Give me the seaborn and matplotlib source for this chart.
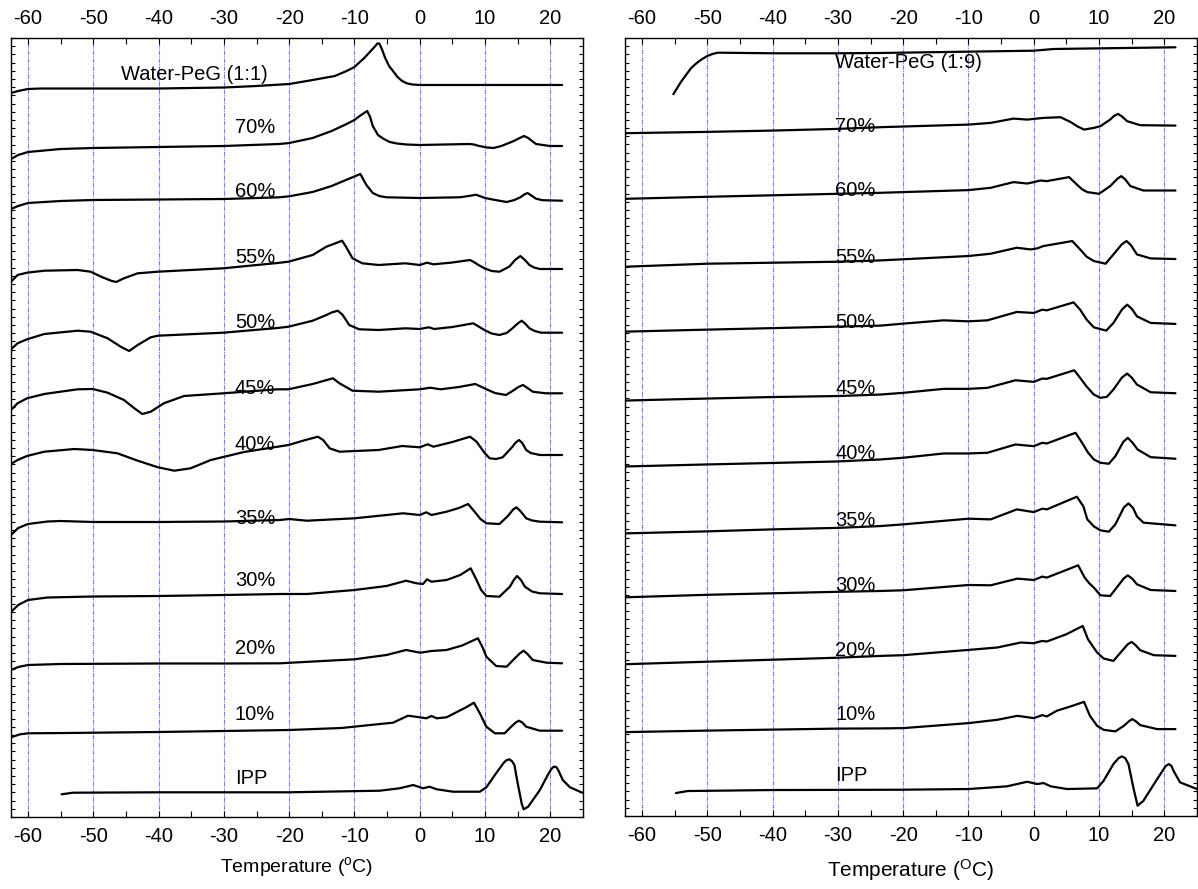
import matplotlib
matplotlib.use("Agg")
import matplotlib.pyplot as plt
from matplotlib.ticker import MultipleLocator
import pandas as pd
import seaborn as sns

# ---------------- data (temperature in degC, heat-flow signal in arbitrary units) ----------------
# Left panel: Water-PeG (1:1) series
lw11_T = [-62.6, -61.5, -60, -58, -50, -40, -30, -25, -20, -16.4, -13, -11.2, -10, -8.5, -7.5, -6.8, -6.5, -6.2, -5.8, -5.3, -4.7, -4.1, -3.4, -2.7, -1.9, -1.1, 0, 21.8]
lw11_y = [724, 726, 728, 728.5, 728.5, 728.5, 729.5, 731, 733, 737, 741, 746, 750, 759, 766, 771, 773.5, 773.5, 768, 759, 751, 746, 740, 736, 733.5, 732.5, 732, 732]

l70_T = [-62.6, -61.5, -60, -55, -50, -40, -30, -21.5, -20, -16.4, -13.5, -11.2, -10, -9.2, -8.05, -7.6, -7.2, -6.4, -5.5, -4.6, -3.5, -2, 0, 7.6, 8.3, 9.1, 10.3, 11.3, 12.5, 14.4, 15.3, 16.0, 16.6, 17.2, 17.8, 19.9, 21.8]
l70_y = [658, 662, 665, 668, 669, 670, 671, 673, 674, 679, 686, 693, 697, 701, 706, 700, 691, 682, 678, 675, 673.5, 672.5, 672, 673, 672.5, 671, 669.5, 669, 671, 676, 679, 681, 679, 676, 673, 671, 671]

l60_T = [-62.6, -61.5, -60, -55, -50, -40, -30, -21.5, -20, -16.4, -13.5, -11.2, -10, -9.1, -8.2, -7.2, -6.2, -5.1, 0, 6.1, 7.5, 8.6, 10, 11.3, 13.3, 14.5, 15.4, 16.0, 16.5, 17.1, 17.8, 18.8, 21.8]
l60_y = [608, 611, 614, 616, 617, 617.5, 618, 619.7, 620.7, 625, 631, 637.3, 640.5, 643, 632.3, 624, 621, 619.7, 619, 619.7, 621, 622.3, 619, 617.3, 615, 617, 619.7, 622.5, 624, 621.5, 618.3, 616.8, 616.3]

l55_T = [-62.6, -61.6, -60.15, -57.5, -52.4, -50.4, -48.8, -47.3, -46.5, -45.3, -43.2, -40.1, -30.1, -21.8, -20.1, -16.4, -14.3, -13, -11.9, -11.3, -10.3, -8.8, -6.3, -2.2, 0, 1.1, 2.1, 5, 7.7, 8.2, 9, 9.9, 11, 12.2, 13.7, 14.6, 15.4, 16.1, 16.8, 17.5, 18.4, 21.8]
l55_y = [535.3, 542, 544.3, 546.3, 547, 545.3, 540.3, 536.3, 535, 538.7, 543.7, 545.3, 548.7, 554, 555.3, 562, 570.3, 573.5, 576.3, 570.3, 558.7, 553.7, 552, 553.7, 552, 554.3, 552.7, 554.5, 557, 555.3, 552, 548.7, 546, 545.3, 550.3, 557, 561, 557, 552, 549.5, 548, 548]

l50_T = [-62.6, -61.6, -60.15, -57.5, -52.4, -50.4, -47.8, -45.8, -44.5, -43.2, -41.2, -40.1, -30.1, -21.8, -20.1, -16.4, -14.3, -13.5, -12.55, -11.8, -10.8, -9.3, -6.3, -2.2, 0, 1.4, 2.2, 5, 8.2, 9.9, 11, 12.2, 13.3, 14.2, 15.0, 15.6, 16.2, 16.8, 17.6, 18.6, 21.8]
l50_y = [467.7, 473.7, 477.7, 483, 486.3, 485.3, 478.7, 470.3, 466, 472, 479.7, 481.3, 484.3, 489, 490.3, 496.3, 502, 504.5, 506.3, 502, 492, 487.7, 487, 488.7, 488, 489.7, 488, 490, 493.7, 487, 483.5, 482, 484, 488.7, 493.5, 496.3, 493, 488.7, 486, 484.3, 484.3]

l45_T = [-62.6, -61.6, -60.15, -57.5, -52.4, -50.1, -47.8, -45.3, -43.7, -42.5, -41.2, -39.2, -36.1, -30.1, -21.8, -20.1, -16.4, -13.3, -12.3, -10.3, -6.3, 0, 1.6, 3.2, 6, 8.5, 9.9, 11.5, 13.2, 14.2, 15.1, 15.8, 16.5, 17.3, 19.3, 21.8]
l45_y = [407, 413.7, 418.7, 423, 427.7, 428, 424.3, 417, 408.7, 403, 405.3, 413.7, 421, 423.7, 427.7, 427.7, 433, 438.7, 433.7, 426.3, 425.3, 427.7, 429.3, 427.7, 430, 433, 428.7, 424, 422, 426, 430, 432, 429, 425.3, 423.7, 423.7]

l40_T = [-62.6, -61.6, -60.15, -57.5, -52.9, -50.1, -46.3, -43.2, -40.1, -37.6, -35.1, -32.0, -30.1, -26.9, -20.1, -17.5, -15.6, -14.8, -13.8, -12.3, -6.3, -2.7, 0, 1.2, 2.1, 5, 7.7, 8.7, 9.9, 10.7, 11.7, 12.7, 14.2, 14.7, 15.2, 15.7, 16.3, 17, 18.4, 21.8]
l40_y = [353, 357, 361, 365.3, 368, 367, 363.7, 356.3, 349.7, 346.3, 348.7, 357, 360, 365, 372, 377, 380.3, 377, 368.7, 365.3, 367, 371, 369.7, 372.7, 370.3, 375, 380.3, 375.3, 364.3, 358.7, 358, 359.7, 370.3, 374.5, 377, 374, 367, 364, 362, 362]

l35_T = [-62.6, -61.5, -60, -57, -55, -50, -40, -30, -21.4, -20, -17.3, -10, -2.55, 0, 1.0, 1.8, 4.1, 6, 7.4, 8.4, 9.3, 10.2, 12.2, 13.5, 14.3, 14.8, 15.4, 16.3, 17.2, 18.4, 21.8]
l35_y = [282, 289, 293, 295.5, 296, 295, 295, 295.5, 297, 298, 296.3, 298.7, 303.7, 302, 304.7, 302, 305.3, 309, 313, 305.3, 298, 293.7, 293, 301, 307.5, 309.7, 306, 298.7, 296.5, 295.3, 294.7]

l30_T = [-62.6, -61.5, -60, -57, -50, -40, -30, -21.4, -17.3, -10, -5.1, -2.1, -0.5, 0.5, 1.1, 1.8, 4.1, 6.2, 7.8, 8.7, 9.4, 10.2, 12.2, 13.8, 14.4, 14.9, 15.5, 16.1, 17.2, 18.4, 21.8]
l30_y = [205, 212, 217, 219.5, 220.5, 221, 222, 223, 223, 227, 231, 236.3, 233.7, 233, 237.7, 235.3, 237, 242, 248.7, 237, 227, 221, 220.3, 230.3, 237, 241, 237, 230.3, 225.5, 223.7, 223]

l20_T = [-62.6, -61.5, -60, -55, -40, -30, -21.4, -10, -5.1, -2.1, 0.1, 1.8, 4.1, 6.5, 8.9, 9.6, 10.2, 11.7, 13.3, 14.3, 15.3, 15.9, 16.5, 17.3, 19.4, 21.8]
l20_y = [147, 150, 152, 153, 153.5, 153.5, 153.7, 157.7, 162, 167, 164.3, 166, 167, 171.5, 178.7, 170, 160.3, 151, 150.3, 157, 163.5, 166.3, 163, 157, 154.3, 153.7]

l10_T = [-62.6, -61.2, -60, -54.1, -40, -30, -20, -12, -6.1, -4.1, -1.8, 0, 1.0, 1.8, 2.6, 4.1, 7.1, 8.3, 9.2, 10.2, 11.5, 13.0, 14.0, 14.7, 15.2, 15.7, 16.3, 18.4, 21.8]
l10_y = [79.7, 82.7, 83.7, 84, 85, 86, 87, 89, 93, 94.3, 101.3, 99.7, 98.7, 101, 98.7, 99.7, 109.7, 114.3, 103.7, 90.3, 83.7, 83.7, 90.3, 94.5, 96.3, 94.5, 90.3, 86.3, 86.3]

lipp_T = [-54.85, -53.1, -40, -20, -6.1, -3.1, -1.0, 0.5, 1.5, 2.6, 5.1, 9.2, 10.2, 11.5, 12.8, 13.2, 13.7, 14.1, 14.5, 15.0, 15.6, 15.9, 16.6, 18.4, 19.6, 20.1, 20.5, 20.9, 21.2, 21.9, 23.0, 24.9]
lipp_y = [22.7, 24.3, 24.7, 24.7, 26.3, 28.7, 32, 28.7, 30.3, 27.7, 25.3, 25.3, 29.7, 42, 53.7, 56.5, 57.7, 56, 52, 33.7, 13.7, 7.7, 10.3, 27, 42, 47.5, 50.3, 50, 47, 37, 29.7, 24.3]

# Right panel: Water-PeG (1:9) series
rw19_T = [-55.2, -54.6, -54.0, -53.2, -52.5, -51.7, -51.0, -50, -49.2, -48.4, -40, -30, -23.5, 0, 3.1, 21.7]
rw19_y = [722.7, 729, 735.3, 742.5, 748.7, 753.5, 757, 761, 763, 764.3, 763.7, 763.7, 764, 766.3, 768, 769.7]

r70_T = [-62.45, -50, -40, -30, -23.5, -10, -6.6, -3.1, -1.0, 0, 1.5, 4.1, 5.6, 6.7, 7.7, 9.2, 10.2, 11.7, 12.3, 12.9, 13.5, 14.3, 16.3, 21.7]
r70_y = [683.7, 685, 686.3, 688, 689.7, 692.3, 694, 698.3, 697.3, 698, 699, 699.7, 695, 690.5, 687.3, 689, 690.7, 697.3, 701, 703, 700.5, 695.7, 691.7, 691.3]

r60_T = [-62.45, -50, -40, -30, -23.5, -10, -6.6, -3.1, -1.0, 0, 1.0, 2.0, 5.4, 6.6, 7.4, 8.2, 10, 11.7, 12.8, 13.4, 14.0, 14.8, 16.8, 21.7]
r60_y = [618, 620, 621.5, 623, 624, 626.7, 629, 634.7, 633.3, 634.7, 636.3, 635.7, 639.7, 632.3, 627.5, 624.7, 623, 630.7, 638, 640.7, 637.5, 630.7, 626.3, 626.3]

r55_T = [-62.45, -50, -40, -30, -23.5, -10, -6.6, -2.6, -0.5, 0.5, 1.5, 5.9, 7.1, 8.1, 9.2, 11.0, 12.2, 13.5, 14.2, 14.9, 15.8, 17.9, 21.7]
r55_y = [550, 553, 554, 555, 556.3, 560.7, 563, 569, 567.3, 568.3, 570.7, 575.7, 567.3, 560, 555.7, 553, 562.3, 572.5, 575.7, 571.5, 562.3, 558.3, 557.7]

r50_T = [-62.45, -50, -40, -30, -23.5, -20, -13.8, -10, -7.1, -2.6, 0, 1.3, 2.0, 6.1, 7.1, 8.1, 9.2, 11.1, 12.2, 13.5, 14.3, 15.0, 15.8, 17.9, 21.7]
r50_y = [485, 487, 488.5, 490, 491, 493, 496.3, 495.3, 496.3, 504.7, 503.7, 507, 506.3, 514.3, 507, 497, 489.3, 486, 493.7, 507, 512, 508, 500.3, 493.7, 492.7]

r45_T = [-62.45, -50, -40, -30, -23.5, -20, -13.8, -10, -7.1, -2.8, 0, 1.3, 2.0, 6.2, 7.1, 8.1, 9.2, 10.2, 11.2, 12.2, 13.5, 14.3, 15.0, 15.8, 17.9, 21.7]
r45_y = [416, 418, 419.5, 420.5, 422, 423.7, 427.7, 427.7, 428.7, 436.3, 434.7, 438, 437.7, 446.3, 438.7, 430, 422, 418.7, 419.7, 427, 439, 443, 439, 432, 424.3, 423.3]

r40_T = [-62.45, -50, -40, -30, -23.5, -20, -13.8, -10, -7.1, -2.8, 0, 1.3, 2.0, 6.4, 7.4, 8.3, 9.2, 10.2, 11.5, 12.5, 13.7, 14.4, 15.1, 15.9, 17.9, 21.7]
r40_y = [350, 352, 353.5, 355, 357, 358.7, 363, 363, 363.7, 372, 370.3, 373.7, 373, 383.7, 373.7, 364, 357, 353.7, 352.7, 360.3, 374.5, 378.7, 374, 367, 359.3, 357.7]

r35_T = [-62.45, -50, -40, -30, -23.5, -20, -10, -6.6, -2.6, 0, 1.3, 2.0, 6.6, 7.6, 8.2, 9.2, 10.2, 11.5, 12.5, 13.8, 14.5, 15.2, 15.8, 16.8, 21.7]
r35_y = [283, 285, 287, 288.5, 290.3, 292, 297.7, 297, 307, 304.3, 307.7, 307, 319.7, 310, 297, 290, 286, 284.7, 292, 309, 313, 308.5, 300, 293.7, 291]

r30_T = [-62.45, -50, -40, -30, -23.5, -20, -10, -6.6, -2.5, 0, 1.3, 2.0, 6.8, 7.8, 8.5, 9.2, 10.2, 11.7, 12.7, 13.8, 14.4, 15.1, 15.8, 17.9, 21.7]
r30_y = [219, 221.5, 223, 224.5, 225.3, 226, 231.3, 231, 237.7, 236.3, 239.7, 238.7, 251, 238.7, 233, 228.7, 221, 220.3, 228.7, 238, 241, 237.5, 232, 226.3, 225.3]

r20_T = [-62.45, -50, -40, -30, -23.5, -20, -10, -5.6, -2.0, 0, 1.3, 2.0, 5, 7.5, 8.3, 9.7, 10.7, 12.2, 13.3, 14.4, 15.0, 15.6, 16.3, 18.4, 21.7]
r20_y = [152, 154.5, 156.5, 158.5, 160.3, 161, 166.3, 168.7, 173.7, 173, 175.3, 174.7, 182, 190.3, 177, 163.7, 157.7, 155.3, 163.7, 172, 174.3, 171, 166, 161, 160.3]

r10_T = [-62.45, -50, -40, -30, -23.5, -20, -10, -5.6, -2.5, 0, 1.3, 2.0, 3.5, 6, 7.7, 8.6, 9.7, 10.7, 12.5, 13.8, 14.6, 15.1, 15.6, 16.3, 18.9, 21.7]
r10_y = [84, 85.5, 86.5, 87.5, 87.7, 88, 93, 96.3, 100.3, 98, 101, 99.7, 105.3, 110.5, 114.3, 100.3, 90.3, 86.3, 84.7, 90.3, 95, 97, 95, 91, 87, 87]

ripp_T = [-54.8, -53, -40, -20.4, -10, -4.1, -1.0, 0.5, 1.5, 2.6, 5.1, 9.7, 10.7, 12.2, 13.0, 13.5, 14.0, 14.5, 15.3, 15.9, 16.8, 18.9, 20.2, 20.7, 21.1, 21.4, 22.4, 25.0]
ripp_y = [23, 25, 26, 26.3, 27, 29.7, 34.3, 32, 33, 29.7, 27, 27.7, 35.3, 52, 58, 59.7, 58, 52, 27, 10.3, 15.3, 37, 50, 52, 50, 45.3, 33.7, 27]

left_names = ['Water-PeG (1:1)', '70%', '60%', '55%', '50%', '45%', '40%', '35%', '30%', '20%', '10%', 'IPP']
right_names = ['Water-PeG (1:9)', '70%', '60%', '55%', '50%', '45%', '40%', '35%', '30%', '20%', '10%', 'IPP']
x_ticks = [-60, -50, -40, -30, -20, -10, 0, 10, 20]

left_curves = [(lw11_T, lw11_y), (l70_T, l70_y), (l60_T, l60_y), (l55_T, l55_y), (l50_T, l50_y),
               (l45_T, l45_y), (l40_T, l40_y), (l35_T, l35_y), (l30_T, l30_y), (l20_T, l20_y),
               (l10_T, l10_y), (lipp_T, lipp_y)]
right_curves = [(rw19_T, rw19_y), (r70_T, r70_y), (r60_T, r60_y), (r55_T, r55_y), (r50_T, r50_y),
                (r45_T, r45_y), (r40_T, r40_y), (r35_T, r35_y), (r30_T, r30_y), (r20_T, r20_y),
                (r10_T, r10_y), (ripp_T, ripp_y)]


def to_frame(names, curves):
    rows = []
    for name, (T, y) in zip(names, curves):
        for t, v in zip(T, y):
            rows.append({'sample': name, 'T': t, 'signal': v})
    return pd.DataFrame(rows)


df_left = to_frame(left_names, left_curves)
df_right = to_frame(right_names, right_curves)

# ---------------- layout / style ----------------
left_label_x = [-45.8] + [-28.3] * 11
left_label_y = [743, 690, 626, 560, 494, 429, 373, 298, 236, 169, 103, 39]
right_label_x = [-30.4] * 12
right_label_y = [754, 690, 626, 559, 494, 428, 363, 296, 231, 166, 102, 41]

sns.set_style('white')
plt.rcParams['font.family'] = ['Liberation Sans', 'DejaVu Sans']
plt.rcParams['mathtext.fontset'] = 'custom'
plt.rcParams['mathtext.rm'] = 'Liberation Sans'
plt.rcParams['mathtext.it'] = 'Liberation Sans:italic'
plt.rcParams['axes.unicode_minus'] = False
plt.rcParams['text.color'] = 'black'
plt.rcParams['axes.labelcolor'] = 'black'
plt.rcParams['xtick.color'] = 'black'
plt.rcParams['ytick.color'] = 'black'

fig = plt.figure(figsize=(11.98, 8.89), dpi=100)
W, H = 1198, 889
ax1 = fig.add_axes([11 / W, (H - 817) / H, 572 / W, 779 / H])
ax2 = fig.add_axes([625 / W, (H - 816) / H, 572 / W, 778 / H])

panels = [(ax1, df_left, left_names, left_label_x, left_label_y, r'Temperature ($^{\mathrm{o}}$C)', 14, 7),
          (ax2, df_right, right_names, right_label_x, right_label_y, r'Temperature ($^{\mathrm{O}}$C)', 15, 9)]

for ax, df, names, lx, ly, xlabel, xls, lpad in panels:
    ax.set_xlim(-62.6, 25.0)
    ax.set_ylim(0, 779)
    ax.set_xticks(x_ticks)
    ax.xaxis.set_minor_locator(MultipleLocator(5))
    ax.yaxis.set_major_locator(MultipleLocator(8.2))
    ax.grid(axis='x', which='major', color='#3344ff', linestyle=(0, (4, 1, 1, 1)), linewidth=0.8, alpha=0.7)
    ax.set_axisbelow(True)
    sns.lineplot(data=df, x='T', y='signal', units='sample', estimator=None, sort=False,
                 color='black', linewidth=1.6, legend=False, ax=ax)
    for name, x, y in zip(names, lx, ly):
        ax.text(x, y, name, ha='left', va='center', fontsize=14.5, color='black')
    ax.tick_params(axis='x', which='both', direction='in', top=True, bottom=True,
                   labeltop=True, labelbottom=True, labelsize=14.5, pad=7, length=4, width=0.8)
    ax.tick_params(axis='y', which='both', direction='in', left=True, right=True,
                   labelleft=False, length=3, width=0.8)
    ax.set_ylabel('')
    ax.set_xlabel(xlabel, fontsize=xls, labelpad=lpad)
    for sp in ax.spines.values():
        sp.set_color('black')
        sp.set_linewidth(1.0)

fig.savefig('out.png', dpi=100)
